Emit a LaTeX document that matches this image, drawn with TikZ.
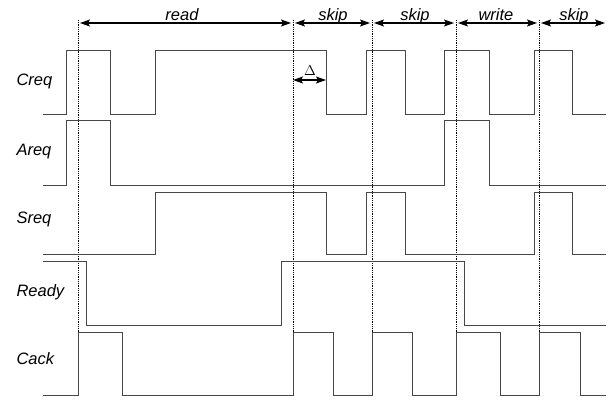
\documentclass[tikz,border=0pt]{standalone}
\usepackage{fontspec}
\setmainfont{Liberation Sans}
\usetikzlibrary{arrows.meta}
\begin{document}
\begin{tikzpicture}[x=1pt,y=-1pt,
  wave/.style={draw=black!72,line width=1pt,line join=miter},
  marker/.style={draw=black,densely dotted,line width=0.8pt},
  span/.style={draw=black,line width=1.2pt,{Stealth[length=10pt,width=7pt,inset=2pt]}-{Stealth[length=10pt,width=7pt,inset=2pt]},shorten <=2pt,shorten >=2pt},
  sig/.style={anchor=base west,font=\fontsize{16.5}{18}\selectfont\itshape},
  phase/.style={anchor=base,font=\fontsize{16.5}{18}\selectfont\itshape}]
\useasboundingbox (0,0) rectangle (608,400);
% phase markers
\foreach \n/\x/\b in {m1/78/350,m2/293/350,m3/372/350,m4/456/350,m5/539/360}{
  \coordinate (\n) at (\x,23);
  \coordinate (\n b) at (\x,\b);
  \draw[marker] (\x,20) -- (\n b);
}
\coordinate (mend) at (605,23);
% phase arrows
\draw[span] (m1) -- (m2);
\draw[span] (m2) -- (m3);
\draw[span] (m3) -- (m4);
\draw[span] (m4) -- (m5);
\draw[span,shorten >=0pt] (m5) -- (mend);
\node[phase] (lread) at (182,20) {read};
\node[phase] (lskip1) at (333,20) {skip};
\node[phase] (lskip2) at (415,20) {skip};
\node[phase] (lwrite) at (496,20) {write};
\node[phase] (lskip3) at (574,20) {skip};
% delta
\coordinate (d1) at (293,80);
\coordinate (d2) at (326,80);
\draw[span,shorten <=0pt,shorten >=0pt] (d1) -- (d2);
\node[font=\fontsize{14}{16}\selectfont] (delta) at (310,71) {$\Delta$};
% signal names
\node[sig] (creq) at (13,85) {Creq};
\node[sig] (areq) at (13,155) {Areq};
\node[sig] (sreq) at (13,223) {Sreq};
\node[sig] (ready) at (13,296) {Ready};
\node[sig] (cack) at (13,364) {Cack};
% waveforms
\draw[wave] (43,114) -- (66,114) -- (66,50) -- (110,50) -- (110,114) -- (155,114) -- (155,50) -- (326,50) -- (326,114) -- (366,114) -- (366,50) -- (405,50) -- (405,114) -- (444,114) -- (444,50) -- (489,50) -- (489,114) -- (534,114) -- (534,50) -- (572,50) -- (572,114) -- (606,114);
\draw[wave] (43,185) -- (66,185) -- (66,120) -- (110,120) -- (110,185) -- (444,185) -- (444,120) -- (489,120) -- (489,185) -- (606,185);
\draw[wave] (43,254) -- (155,254) -- (155,192) -- (326,192) -- (326,254) -- (366,254) -- (366,192) -- (405,192) -- (405,254) -- (534,254) -- (534,192) -- (572,192) -- (572,254) -- (606,254);
\draw[wave] (43,261) -- (86,261) -- (86,325) -- (281,325) -- (281,261) -- (464,261) -- (464,325) -- (606,325);
\draw[wave] (43,395) -- (78,395) -- (78,332) -- (122,332) -- (122,395) -- (293,395) -- (293,332) -- (333,332) -- (333,395) -- (372,395) -- (372,332) -- (412,332) -- (412,395) -- (456,395) -- (456,332) -- (500,332) -- (500,395) -- (539,395) -- (539,332) -- (580,332) -- (580,395) -- (606,395);
\end{tikzpicture}
\end{document}
